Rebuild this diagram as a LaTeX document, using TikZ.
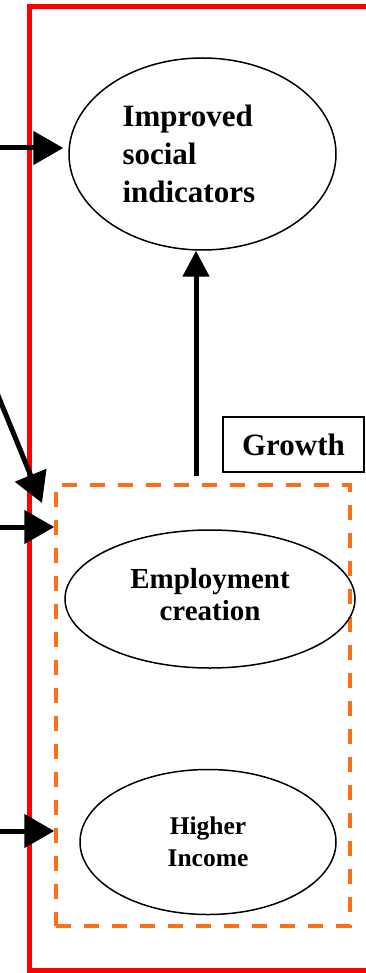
\documentclass[tikz,border=0pt]{standalone}
\usepackage{fontspec}
\setmainfont{Liberation Serif}
\usetikzlibrary{shapes.geometric,arrows.meta}
\definecolor{framered}{RGB}{255,0,0}
\definecolor{dashorange}{RGB}{255,110,20}
\begin{document}
\begin{tikzpicture}[x=1pt,y=-1pt,
  oval/.style={draw, ellipse, line width=1.5pt, inner sep=0pt},
  flow/.style={line width=5pt, -{Triangle[length=30pt,width=33pt]}},
  upflow/.style={line width=5pt, -{Triangle[length=26pt,width=26pt]}},
  bigfont/.style={font=\fontsize{31}{38}\selectfont\bfseries},
]
\useasboundingbox (0,0) rectangle (366,973);
\clip (0,0) rectangle (366,973);

% outer red frame (open to the right)
\draw[framered, line width=5pt, line join=miter] (380,6.5) -- (29,6.5) -- (29,970.5) -- (380,970.5);

% dashed group
\node[draw=dashorange, line width=3.5pt, dash pattern=on 15pt off 13pt,
      minimum width=294pt, minimum height=441pt, inner sep=0pt] (grp) at (203,705.5) {};

% ellipses
\node[oval, bigfont, minimum width=267pt, minimum height=192pt,
      text width=160pt, align=left] (imp) at (202.5,154) {Improved\\social\\indicators};
\node[oval, font=\fontsize{29}{32}\selectfont\bfseries, minimum width=290pt, minimum height=138pt,
      align=center, text depth=10pt] (emp) at (210,599) {Employment\\creation};
\node[oval, font=\fontsize{25.5}{32}\selectfont\bfseries, minimum width=256pt, minimum height=145pt,
      align=center] (inc) at (208,842) {Higher\\Income};

% Growth box
\node[draw, line width=2pt, bigfont, minimum width=141pt, minimum height=55pt, inner sep=0pt]
      (gro) at (293.5,444.5) {Growth};

% connector ends
\coordinate (s1) at (0,148);
\coordinate (s2) at (0,527);
\coordinate (s3) at (0,831);
\coordinate (d1) at (-12,371);
\coordinate (d2) at (42,503);
\coordinate (gs) at (196,476);

% connectors
\draw[flow, shorten >=5pt] (s1) -- (imp.west |- s1);
\draw[flow] (d1) -- (d2);
\draw[flow] (s2) -- (grp.west |- s2);
\draw[flow] (s3) -- (grp.west |- s3);
\draw[upflow] (gs) -- (gs |- imp.south);
\end{tikzpicture}
\end{document}
